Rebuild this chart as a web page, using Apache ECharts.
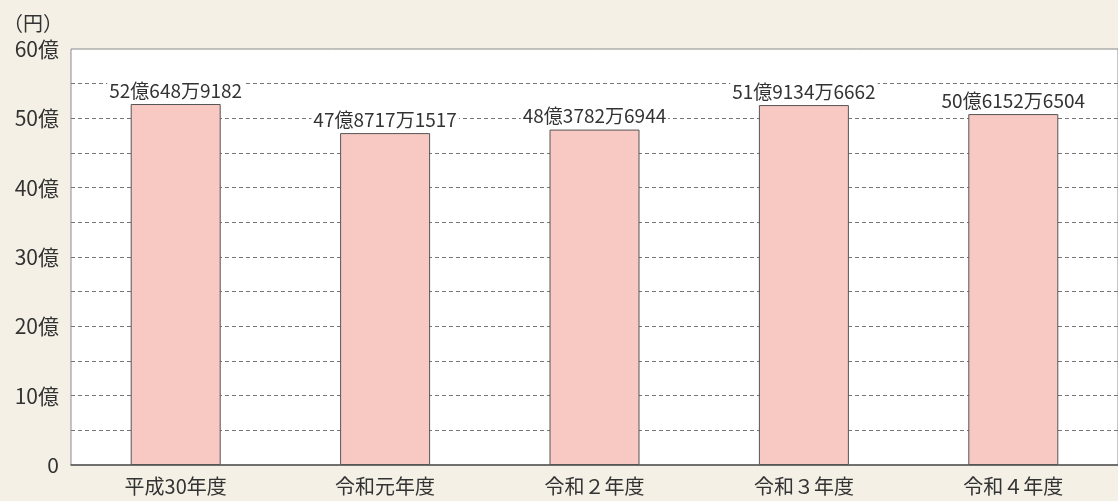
<!DOCTYPE html>
<html>
<head>
<meta charset="utf-8">
<script src="https://cdn.jsdelivr.net/npm/echarts@6/dist/echarts.min.js"></script>
<style>
  html, body { margin: 0; padding: 0; background: #f4f0e6; }
  #chart { width: 1118px; height: 501px; }
</style>
</head>
<body>
<div id="chart"></div>
<script>
// 年度
const categories = ["平成30年度", "令和元年度", "令和２年度", "令和３年度", "令和４年度"];
// 金額（億円）
const values = [52.0649, 47.8717, 48.3783, 51.9135, 50.6153];
// 棒の上のラベル
const barLabels = ["52億648万9182", "47億8717万1517", "48億3782万6944", "51億9134万6662", "50億6152万6504"];

const font = '"Noto Sans CJK JP", "Noto Sans", sans-serif';

const chart = echarts.init(document.getElementById("chart"));
chart.setOption({
  backgroundColor: "#f4f0e6",
  animation: false,
  grid: {
    left: 70, right: -1, top: 49, bottom: 36,
    show: true, backgroundColor: "#fff", borderColor: "#8a8a8a", borderWidth: 1
  },
  xAxis: {
    type: "category",
    data: categories,
    axisLine: { lineStyle: { color: "#555", width: 1.5 } },
    axisTick: { show: false },
    axisLabel: { color: "#333", fontSize: 20, fontFamily: font, margin: 11 }
  },
  yAxis: {
    type: "value",
    name: "（円）",
    nameLocation: "end",
    nameGap: 16,
    nameTextStyle: { color: "#333", fontSize: 20, fontFamily: font, align: "right", padding: [0, 8, 0, 0] },
    min: 0, max: 60, interval: 5,
    axisLine: { show: false },
    axisTick: { show: false },
    axisLabel: {
      color: "#333", fontSize: 21, fontFamily: font, margin: 12,
      formatter: v => v === 0 ? "0" : (v % 10 === 0 ? v + "億" : "")
    },
    splitLine: {
      showMinLine: false, showMaxLine: false,
      lineStyle: { color: "#777", type: [4, 3], width: 1 }
    }
  },
  series: [{
    type: "bar",
    data: values,
    barWidth: 90,
    itemStyle: { color: "#f8c8c3", borderColor: "#555", borderWidth: 1 },
    label: {
      show: true, position: "top", distance: 4,
      formatter: p => barLabels[p.dataIndex],
      color: "#333", fontSize: 19, fontFamily: font,
      backgroundColor: "#fff", padding: [0, 2]
    }
  }]
});
</script>
</body>
</html>
